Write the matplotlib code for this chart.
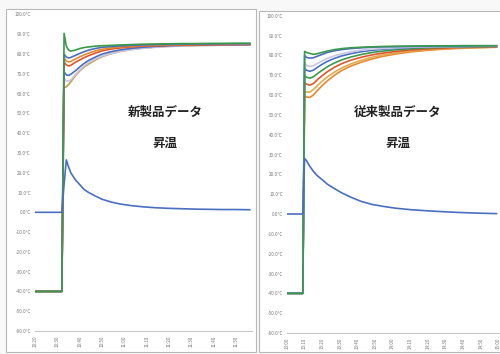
import matplotlib
matplotlib.use("Agg")
import matplotlib.pyplot as plt
from matplotlib.patches import Rectangle

# ---------------- data: left chart (新製品データ) ----------------
left_t = [0, 12, 13, 14, 15, 16, 18, 20, 22, 24, 27, 30, 34, 38, 43, 48, 54, 60, 66, 72, 78, 84, 90, 96]
left_ambient = [0, 0, 14, 26.5, 23, 20, 16.5, 14, 11.5, 10, 8.2, 6.6, 5.2, 4.2, 3.4, 2.8, 2.3, 2.0, 1.8, 1.6, 1.5, 1.4, 1.4, 1.3]
left_green = [-40, -40, 90.5, 84, 82, 81.5, 82, 82.8, 83.3, 83.6, 84, 84.2, 84.4, 84.6, 84.8, 85, 85.1, 85.2, 85.3, 85.3, 85.4, 85.4, 85.5, 85.5]
left_blue1 = [-40, -40, 80, 78.5, 78, 78.3, 79.3, 80.3, 81.2, 82, 82.8, 83.4, 83.8, 84.1, 84.4, 84.6, 84.8, 84.9, 85, 85.1, 85.1, 85.2, 85.2, 85.2]
left_orange = [-40, -40, 78, 76.5, 76, 76.3, 77.5, 78.6, 79.6, 80.5, 81.6, 82.4, 83.1, 83.6, 84, 84.3, 84.5, 84.7, 84.8, 84.9, 84.9, 85, 85, 85]
left_red = [-40, -40, 76, 74.5, 74, 74.3, 75.8, 77, 78.2, 79.2, 80.5, 81.6, 82.5, 83.1, 83.6, 84, 84.2, 84.4, 84.5, 84.6, 84.7, 84.7, 84.8, 84.8]
left_blue2 = [-40, -40, 71, 69.5, 69.2, 69.8, 71.5, 73.5, 75.3, 76.8, 78.5, 80, 81.2, 82.1, 82.9, 83.4, 83.9, 84.2, 84.4, 84.5, 84.6, 84.7, 84.7, 84.8]
left_lav = [-40, -40, 67.5, 66.5, 66.3, 67, 69.5, 72, 74, 75.7, 77.5, 79, 80.3, 81.3, 82.2, 82.9, 83.5, 83.9, 84.1, 84.3, 84.4, 84.5, 84.5, 84.6]
left_brown = [-40, -40, 63, 63.5, 64.5, 66, 69, 71.5, 73.5, 75, 77, 78.7, 80.2, 81.3, 82.3, 83, 83.5, 83.9, 84.1, 84.3, 84.4, 84.5, 84.5, 84.6]
left_xlabels = ["10:20", "10:30", "10:40", "10:50", "11:00", "11:10", "11:20", "11:30", "11:40", "11:50"]

# ---------------- data: right chart (従来製品データ) ----------------
right_t = [0, 9, 10, 11, 13, 15, 17, 20, 23, 27, 31, 36, 42, 48, 55, 62, 70, 80, 90, 100, 110, 119]
right_ambient = [0, 0, 28, 27, 24, 21.5, 19.5, 17.3, 15, 12.8, 10.7, 8.6, 6.4, 4.9, 3.8, 2.9, 2.2, 1.6, 1.1, 0.7, 0.4, 0.2]
right_green1 = [-40, -40, 82, 81.5, 81, 80.5, 80.8, 81.5, 82.2, 82.9, 83.4, 83.8, 84.1, 84.3, 84.5, 84.6, 84.7, 84.8, 84.8, 84.9, 84.9, 84.9]
right_blue1 = [-40, -40, 80, 79, 78.6, 78.8, 79.5, 80.5, 81.5, 82.3, 82.9, 83.4, 83.8, 84.1, 84.3, 84.4, 84.5, 84.6, 84.7, 84.7, 84.8, 84.8]
right_lav = [-40, -40, 76, 75, 74.4, 74.8, 75.8, 77.2, 78.5, 79.8, 80.8, 81.8, 82.6, 83.1, 83.5, 83.8, 84.1, 84.3, 84.4, 84.5, 84.6, 84.6]
right_blue2 = [-40, -40, 73.5, 72.5, 72, 72.5, 73.8, 75.5, 77, 78.5, 79.7, 80.8, 81.8, 82.5, 83.1, 83.5, 83.9, 84.2, 84.4, 84.5, 84.6, 84.6]
right_green2 = [-40, -40, 70, 69, 68.5, 69.2, 70.6, 72.5, 74.3, 76.2, 77.7, 79.1, 80.4, 81.4, 82.2, 82.8, 83.3, 83.8, 84.1, 84.3, 84.4, 84.5]
right_red = [-40, -40, 66.5, 65.5, 65, 65.8, 67.5, 69.8, 71.8, 74, 75.8, 77.5, 79, 80.2, 81.2, 82, 82.7, 83.3, 83.7, 84, 84.2, 84.3]
right_tan = [-40, -40, 62, 61.5, 61.5, 62.8, 64.6, 67, 69.2, 71.6, 73.6, 75.6, 77.5, 79, 80.3, 81.3, 82.2, 83, 83.5, 83.8, 84, 84.2]
right_orange = [-40, -40, 60, 59, 58.8, 60, 62, 64.8, 67.2, 70, 72.3, 74.5, 76.5, 78.1, 79.6, 80.7, 81.7, 82.6, 83.2, 83.6, 83.9, 84.1]
right_xlabels = ["13:00", "13:10", "13:20", "13:30", "13:40", "13:50", "14:00", "14:10",
                 "14:20", "14:30", "14:40", "14:50", "15:00"]

yticks = [100, 90, 80, 70, 60, 50, 40, 30, 20, 10, 0, -10, -20, -30, -40, -50, -60]

BLUE = "#4a6fc0"
ORANGE = "#e8882e"
GREEN = "#3a9a4a"
RED = "#e0552e"
LAV = "#c9c6e4"
BROWN = "#c89a40"
TAN = "#e0aa50"

plt.rcParams['font.family'] = ['Noto Sans CJK JP', 'DejaVu Sans']

fig = plt.figure(figsize=(5.0, 3.54), dpi=100)
fig.patch.set_facecolor("#f8f8f8")

W, H = 500.0, 354.0

def fx(px):
    return px / W

def fy(py):
    return 1 - py / H

# panel backgrounds / borders
fig.patches.append(Rectangle((fx(6), fy(352)), fx(250), (352 - 9) / H, transform=fig.transFigure,
                             facecolor="white", edgecolor="#b8b8b8", lw=0.8, zorder=-5))
fig.patches.append(Rectangle((fx(259), fy(352)), fx(245), (352 - 11) / H, transform=fig.transFigure,
                             facecolor="white", edgecolor="#b8b8b8", lw=0.8, zorder=-5))


def setup(ax, xlim, labels, step):
    ax.set_facecolor("none")
    ax.set_xlim(*xlim)
    ax.set_ylim(-60, 100)
    ax.set_yticks(yticks)
    ax.set_yticklabels([f"{v:.1f}°C" for v in yticks], fontsize=3.3, color="#777777")
    ax.set_xticks([i * step for i in range(len(labels))])
    ax.set_xticklabels(labels, rotation=90, fontsize=3.3, color="#777777")
    for s in ["top", "right", "left"]:
        ax.spines[s].set_visible(False)
    ax.spines["bottom"].set_color("#c8c8c8")
    ax.spines["bottom"].set_linewidth(0.8)
    ax.tick_params(length=0, pad=3)


# ---- left chart ----
axL = fig.add_axes([fx(35), fy(331), fx(252 - 35), (331 - 14.5) / H])
setup(axL, (0, 97), left_xlabels, 10)
lw = 1.2
for vals, c in [(left_brown, BROWN), (left_lav, LAV), (left_blue2, BLUE), (left_red, RED),
                (left_orange, ORANGE), (left_blue1, BLUE), (left_green, GREEN)]:
    axL.plot(left_t, vals, color=c, lw=lw)
axL.plot(left_t, left_ambient, color=BLUE, lw=lw)
axL.text(0.6, 0.692, "新製品データ", transform=axL.transAxes, ha="center", va="center",
         fontsize=9, fontweight="bold", color="#222222")
axL.text(0.6, 0.594, "昇温", transform=axL.transAxes, ha="center", va="center",
         fontsize=9, fontweight="bold", color="#222222")

# ---- right chart ----
axR = fig.add_axes([fx(287), fy(333), fx(500 - 287), (333 - 15.7) / H])
setup(axR, (0, 121), right_xlabels, 10)
for vals, c in [(right_orange, ORANGE), (right_tan, TAN), (right_red, RED), (right_green2, GREEN),
                (right_blue2, BLUE), (right_lav, LAV), (right_blue1, BLUE), (right_green1, GREEN)]:
    axR.plot(right_t, vals, color=c, lw=lw)
axR.plot(right_t, right_ambient, color=BLUE, lw=lw)
axR.text(0.52, 0.696, "従来製品データ", transform=axR.transAxes, ha="center", va="center",
         fontsize=9, fontweight="bold", color="#222222")
axR.text(0.52, 0.599, "昇温", transform=axR.transAxes, ha="center", va="center",
         fontsize=9, fontweight="bold", color="#222222")

fig.savefig("out.png", dpi=100)
